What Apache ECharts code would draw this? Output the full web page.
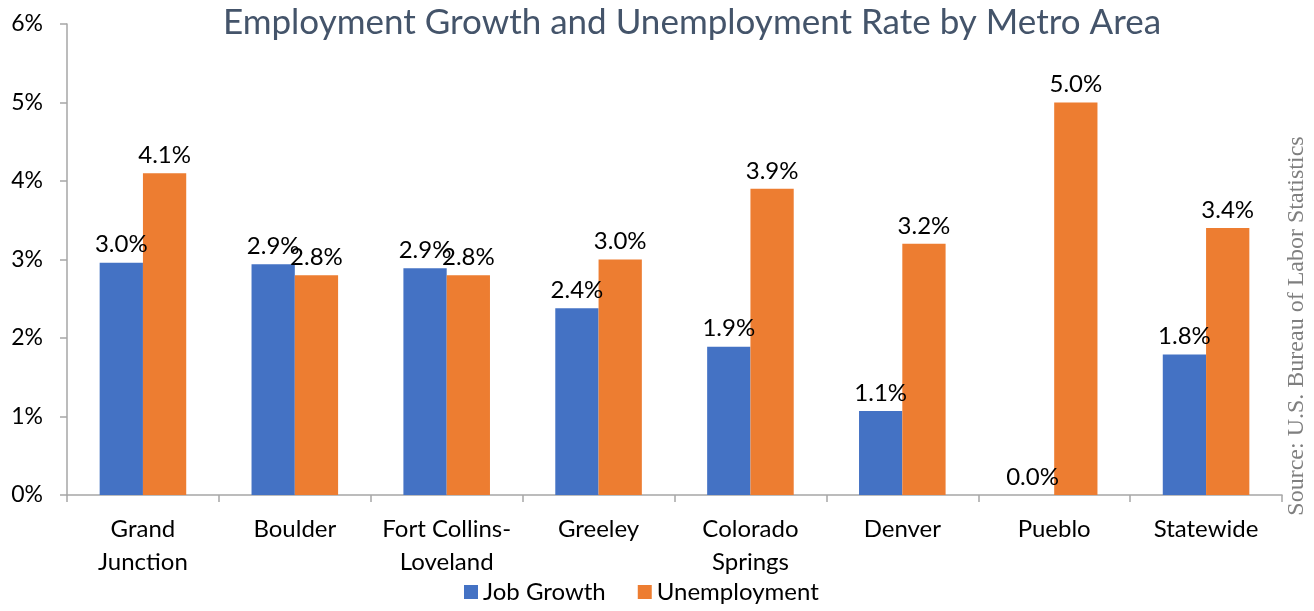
<!DOCTYPE html>
<html>
<head>
<meta charset="utf-8">
<script src="https://cdn.jsdelivr.net/npm/echarts@6/dist/echarts.min.js"></script>
<style>
  html, body { margin: 0; padding: 0; background: #fff; }
  #chart { width: 1314px; height: 611px; }
</style>
</head>
<body>
<div id="chart"></div>
<script>
// metro areas
const categories = [
  'Grand\nJunction', 'Boulder', 'Fort Collins-\nLoveland', 'Greeley',
  'Colorado\nSprings', 'Denver', 'Pueblo', 'Statewide'
]
// percent values
const jobGrowth = [2.96, 2.94, 2.89, 2.38, 1.89, 1.07, 0.0, 1.79]
const unemployment = [4.1, 2.8, 2.8, 3.0, 3.9, 3.2, 5.0, 3.4]
const yTicks = [0, 1, 2, 3, 4, 5, 6]

const FONT = 'Lato, "Noto Sans", sans-serif'
const AXIS_COLOR = '#a6a6a6'

const chart = echarts.init(document.getElementById('chart'))

const labelStyle = {
  show: true,
  position: 'top',
  distance: 6,
  fontFamily: FONT,
  fontSize: 24,
  color: '#000',
  formatter: (p) => p.value.toFixed(1) + '%'
}

chart.setOption({
  animation: false,
  backgroundColor: '#fff',
  title: {
    text: 'Employment Growth and Unemployment Rate by Metro Area',
    left: 687,
    top: 0,
    textAlign: 'center',
    textStyle: {
      fontFamily: FONT,
      fontWeight: 'normal',
      fontSize: 35,
      color: '#44546A'
    }
  },
  legend: {
    bottom: 2,
    left: 459,
    itemWidth: 14,
    itemHeight: 14,
    itemGap: 32,
    icon: 'rect',
    textStyle: { fontFamily: FONT, fontSize: 24, color: '#000' },
    data: ['Job Growth', 'Unemployment']
  },
  grid: { left: 67, right: 32, top: 24, bottom: 116 },
  xAxis: {
    type: 'category',
    data: categories,
    axisLine: { lineStyle: { color: AXIS_COLOR, width: 1.5 } },
    axisTick: { show: true, length: 7, lineStyle: { color: AXIS_COLOR, width: 1.5 } },
    axisLabel: {
      interval: 0,
      margin: 18,
      fontFamily: FONT,
      fontSize: 24,
      lineHeight: 33,
      color: '#000'
    }
  },
  yAxis: {
    type: 'value',
    min: yTicks[0],
    max: yTicks[yTicks.length - 1],
    interval: 1,
    splitLine: { show: false },
    axisLine: { show: true, lineStyle: { color: AXIS_COLOR, width: 1.5 } },
    axisTick: { show: true, length: 7, lineStyle: { color: AXIS_COLOR, width: 1.5 } },
    axisLabel: {
      margin: 24,
      fontFamily: FONT,
      fontSize: 23,
      color: '#000',
      formatter: (v) => v + '%'
    }
  },
  series: [
    {
      name: 'Job Growth',
      type: 'bar',
      data: jobGrowth,
      barGap: '0%',
      barCategoryGap: '43%',
      itemStyle: { color: '#4472C4' },
      label: labelStyle
    },
    {
      name: 'Unemployment',
      type: 'bar',
      data: unemployment,
      itemStyle: { color: '#ED7D31' },
      label: labelStyle
    }
  ],
  graphic: [
    {
      type: 'text',
      x: 1297,
      y: 326,
      rotation: Math.PI / 2,
      style: {
        text: 'Source: U.S. Bureau of Labor Statistics',
        font: '24px "Liberation Serif", "DejaVu Serif", serif',
        fill: '#7f7f7f',
        align: 'center',
        verticalAlign: 'middle'
      }
    }
  ]
})
</script>
</body>
</html>
